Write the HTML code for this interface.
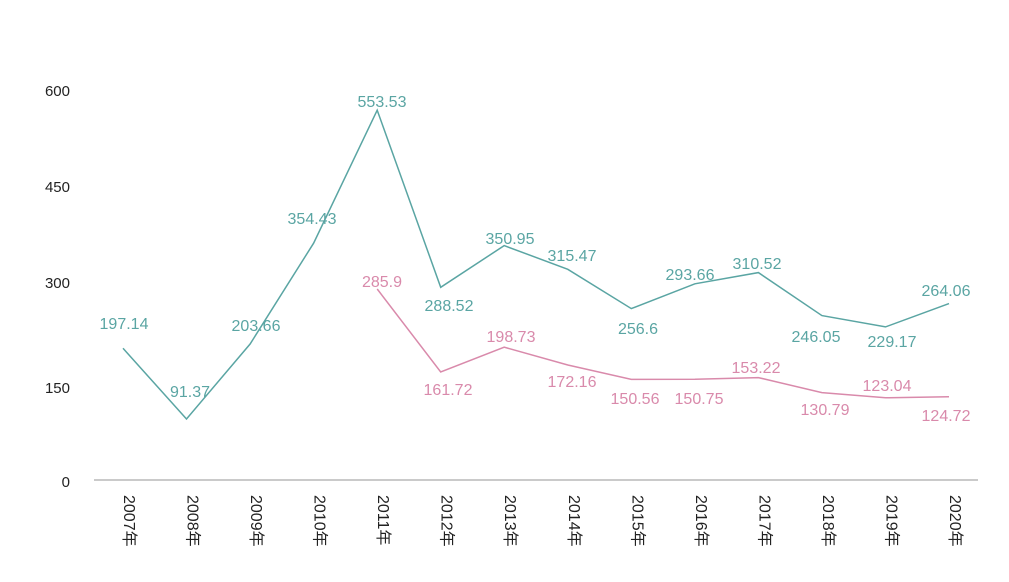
<!DOCTYPE html><html><head><meta charset="utf-8"><style>body{margin:0;background:#fff}svg{display:block}</style></head><body>
<svg width="1009" height="582" xmlns="http://www.w3.org/2000/svg" font-family="Liberation Sans, sans-serif">
<g font-size="15" fill="#222" text-anchor="end">
<text x="70" y="96">600</text><text x="70" y="192">450</text><text x="70" y="288">300</text><text x="70" y="393">150</text><text x="70" y="487">0</text>
</g>
<line x1="94" y1="480" x2="978" y2="480" stroke="#aaa" stroke-width="1.2"/>
<g font-size="16" fill="#222" font-family="Liberation Sans, Noto Sans CJK SC, sans-serif">
<text transform="translate(124,495) rotate(90)">2007年</text>
<text transform="translate(187.5,495) rotate(90)">2008年</text>
<text transform="translate(251,495) rotate(90)">2009年</text>
<text transform="translate(314.6,495) rotate(90)">2010年</text>
<text transform="translate(378.2,495) rotate(90)">2011年</text>
<text transform="translate(441.7,495) rotate(90)">2012年</text>
<text transform="translate(505.2,495) rotate(90)">2013年</text>
<text transform="translate(568.8,495) rotate(90)">2014年</text>
<text transform="translate(632.3,495) rotate(90)">2015年</text>
<text transform="translate(695.9,495) rotate(90)">2016年</text>
<text transform="translate(759.4,495) rotate(90)">2017年</text>
<text transform="translate(822.9,495) rotate(90)">2018年</text>
<text transform="translate(886.5,495) rotate(90)">2019年</text>
<text transform="translate(950,495) rotate(90)">2020年</text>
</g>
<polyline fill="none" stroke="#5aa5a3" stroke-width="1.5" points="123,348.3 186.5,419 250.1,344 313.6,243.2 377.2,110.2 440.7,287.3 504.2,245.6 567.8,269.3 631.3,308.6 694.9,283.8 758.4,272.6 821.9,315.6 885.5,326.9 949,303.6"/>
<polyline fill="none" stroke="#d98aab" stroke-width="1.5" points="377.2,289 440.7,372 504.2,347.2 567.8,365 631.3,379.4 694.9,379.3 758.4,377.6 821.9,392.6 885.5,397.8 949,396.7"/>
<g font-size="16" fill="#5aa5a3" text-anchor="middle">
<text x="124" y="329">197.14</text><text x="190" y="397">91.37</text><text x="256" y="331">203.66</text><text x="312" y="224">354.43</text><text x="382" y="107">553.53</text><text x="449" y="311">288.52</text><text x="510" y="244">350.95</text><text x="572" y="261">315.47</text><text x="638" y="334">256.6</text><text x="690" y="280">293.66</text><text x="757" y="269">310.52</text><text x="816" y="342">246.05</text><text x="892" y="347">229.17</text><text x="946" y="296">264.06</text>
</g>
<g font-size="16" fill="#d98aab" text-anchor="middle">
<text x="382" y="287">285.9</text><text x="448" y="395">161.72</text><text x="511" y="342">198.73</text><text x="572" y="387">172.16</text><text x="635" y="404">150.56</text><text x="699" y="404">150.75</text><text x="756" y="373">153.22</text><text x="825" y="415">130.79</text><text x="887" y="391">123.04</text><text x="946" y="421">124.72</text>
</g>
</svg></body></html>
